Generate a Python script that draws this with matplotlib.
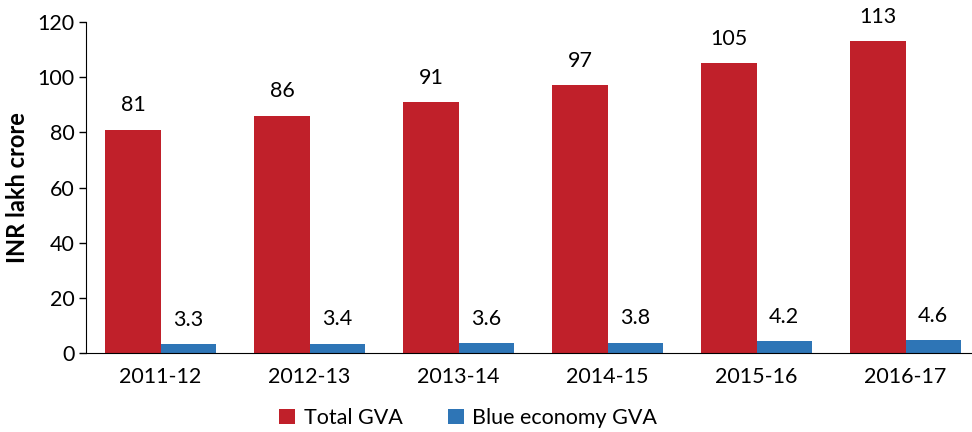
import matplotlib
matplotlib.use('Agg')
import matplotlib.pyplot as plt
import numpy as np

years = ['2011-12', '2012-13', '2013-14', '2014-15', '2015-16', '2016-17']
total_gva = [81, 86, 91, 97, 105, 113]
blue_gva = [3.3, 3.4, 3.6, 3.8, 4.2, 4.6]

red = '#C0202A'
blue = '#2E75B6'

plt.rcParams['font.family'] = ['Lato', 'DejaVu Sans']

fig = plt.figure(figsize=(9.72, 4.32), dpi=100)
ax = fig.add_axes([86/972, 1 - 353/432, 886/972, 331/432])

x = np.arange(len(years))
w = 0.37
b1 = ax.bar(x - w/2, total_gva, w, color=red, label='Total GVA')
b2 = ax.bar(x + w/2, blue_gva, w, color=blue, label='Blue economy GVA')

# value labels above each bar
for bars, vals in ((b1, total_gva), (b2, blue_gva)):
    for bar, v in zip(bars, vals):
        ax.annotate('%g' % v, (bar.get_x() + bar.get_width()/2, v),
                    xytext=(0, 17.5), textcoords='offset points',
                    ha='center', va='center', fontsize=15.5)

ax.set_xlim(-0.5, 5.446)
ax.set_ylim(0, 120)
ax.set_yticks(range(0, 121, 20))
ax.set_xticks(x)
ax.set_xticklabels(years)
ax.tick_params(axis='x', length=0, pad=10, labelsize=15.5)
ax.tick_params(axis='y', length=5, width=1, labelsize=15.5, pad=3)
ax.spines['top'].set_visible(False)
ax.spines['right'].set_visible(False)
ax.set_ylabel('INR lakh crore', fontsize=17, fontweight='bold', labelpad=6)

fig.legend(handles=[b1, b2], loc='center', bbox_to_anchor=(468/972, 1 - 418/432),
           ncol=2, frameon=False, fontsize=15.5, handlelength=0.75, handleheight=0.75,
           handletextpad=0.4, columnspacing=2.1)

plt.savefig('out.png', dpi=100)
